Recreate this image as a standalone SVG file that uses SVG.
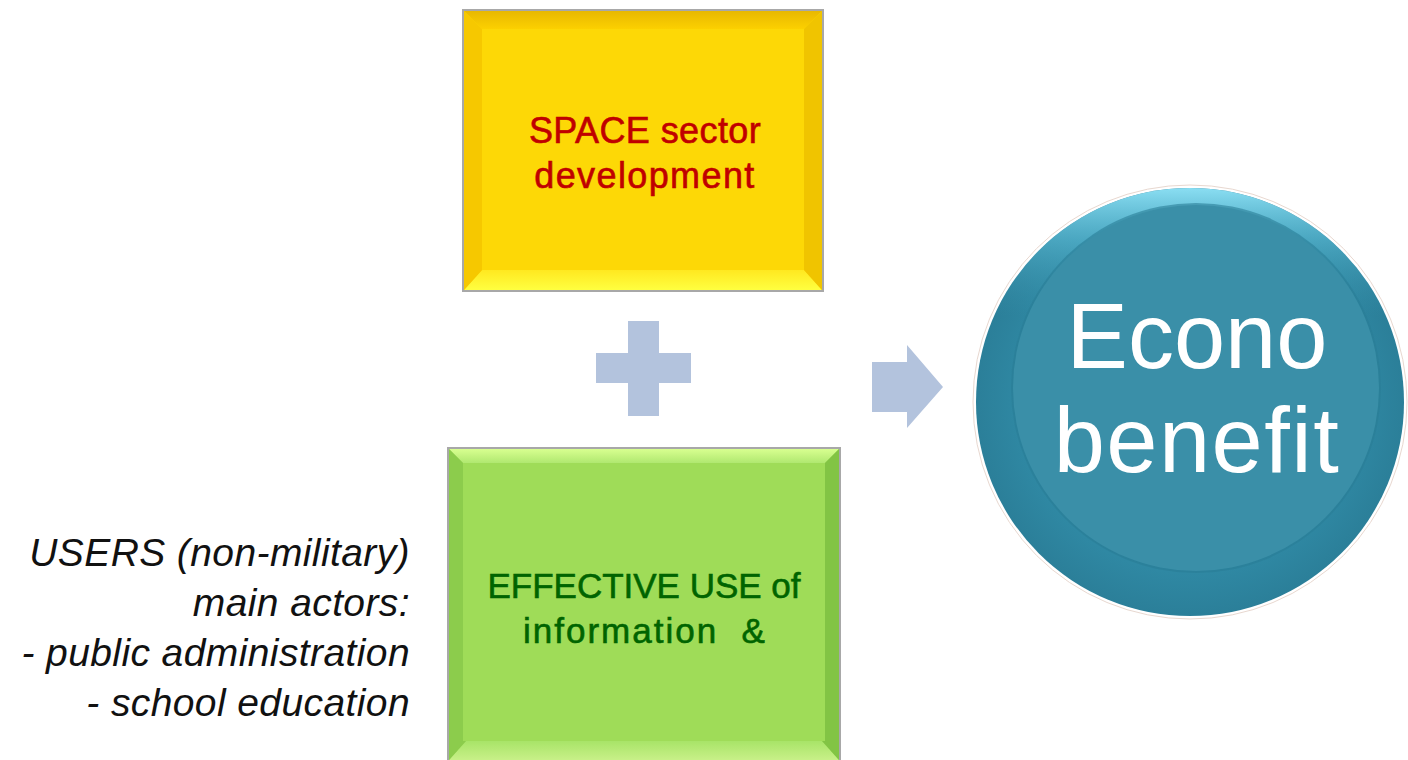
<svg xmlns="http://www.w3.org/2000/svg" width="1408" height="760" viewBox="0 0 1408 760">
  <defs>
    <radialGradient id="outerG" cx="0.5" cy="0.5" r="0.5" fx="0.5" fy="0.5">
      <stop offset="0.8" stop-color="#2f88a3"/>
      <stop offset="1" stop-color="#2b7f99"/>
    </radialGradient>
    <linearGradient id="hiG" x1="0" y1="0" x2="0" y2="1">
      <stop offset="0" stop-color="#8fe3f7" stop-opacity="0.95"/>
      <stop offset="0.12" stop-color="#5fc0da" stop-opacity="0.6"/>
      <stop offset="0.3" stop-color="#3a98b2" stop-opacity="0"/>
    </linearGradient>
    <linearGradient id="yTop" x1="0" y1="0" x2="0" y2="1">
      <stop offset="0" stop-color="#e8b800"/>
      <stop offset="1" stop-color="#fcd000"/>
    </linearGradient>
    <linearGradient id="yBot" x1="0" y1="0" x2="0" y2="1">
      <stop offset="0" stop-color="#ffe820"/>
      <stop offset="1" stop-color="#ffff40"/>
    </linearGradient>
    <linearGradient id="gTop" x1="0" y1="0" x2="0" y2="1">
      <stop offset="0" stop-color="#d8ff90"/>
      <stop offset="1" stop-color="#b0e870"/>
    </linearGradient>
    <linearGradient id="gBot" x1="0" y1="0" x2="0" y2="1">
      <stop offset="0" stop-color="#a8e468"/>
      <stop offset="1" stop-color="#c8f088"/>
    </linearGradient>
    <style>
      .box-edge { stroke: #a8a8a8; stroke-width: 2; }
      .lbl { font-family: "Liberation Sans", Arial, sans-serif; text-anchor: middle; stroke-width: 0.6; }
      .side { font-family: "Liberation Sans", Arial, sans-serif; font-style: italic; font-size: 39px; letter-spacing: 0.4px; fill: #111111; text-anchor: end; }
      .sym { fill: #b3c3dd; }
    </style>
  </defs>
  <rect width="1408" height="760" fill="#ffffff"/>

  <g id="space-sector">
    <rect x="463" y="10" width="360" height="281" fill="#fdd800" class="box-edge"/>
    <polygon points="464,11 822,11 804,29 482,29" fill="url(#yTop)"/>
    <polygon points="464,290 822,290 804,270 482,270" fill="url(#yBot)"/>
    <polygon points="464,11 482,29 482,270 464,290" fill="#f6c800"/>
    <polygon points="822,11 804,29 804,270 822,290" fill="#f0c400"/>
    <rect x="482" y="29" width="322" height="241" fill="#fdd806"/>
    <text class="lbl" x="645" y="143" font-size="36" letter-spacing="0.4" fill="#c00000" stroke="#c00000">SPACE sector</text>
    <text class="lbl" x="645" y="188" font-size="36" letter-spacing="1.4" fill="#c00000" stroke="#c00000">development</text>
  </g>

  <g id="effective-use">
    <rect x="448" y="448" width="392" height="320" fill="#9edc5a" class="box-edge"/>
    <polygon points="449,449 839,449 825,463 463,463" fill="url(#gTop)"/>
    <polygon points="449,760 839,760 822,741 466,741" fill="url(#gBot)"/>
    <polygon points="449,449 463,463 466,741 449,760" fill="#8ccc4c"/>
    <polygon points="839,449 825,463 822,741 839,760" fill="#82c444"/>
    <rect x="463" y="463" width="362" height="278" fill="#9fdc58"/>
    <text class="lbl" x="644" y="598" font-size="35" fill="#006400" stroke="#006400">EFFECTIVE USE of</text>
    <text class="lbl" x="645" y="643" font-size="35" letter-spacing="2" fill="#006400" stroke="#006400" xml:space="preserve">information  &amp;</text>
  </g>

  <g id="users">
    <text class="side" x="410" y="566">USERS (non-military)</text>
    <text class="side" x="410" y="616">main actors:</text>
    <text class="side" x="410" y="666">- public administration</text>
    <text class="side" x="410" y="716">- school education</text>
  </g>

  <g id="econo-benefit">
    <circle cx="1190" cy="402" r="217" fill="#ffffff" stroke="#e8d8d0" stroke-width="1"/>
    <circle cx="1190" cy="402" r="214" fill="url(#outerG)"/>
    <circle cx="1190" cy="402" r="214" fill="url(#hiG)"/>
    <circle cx="1196" cy="388" r="185" fill="#2a7d96" opacity="0.6"/>
    <circle cx="1196" cy="388" r="183" fill="#3a8fa8"/>
    <text class="lbl" x="1197" y="368" font-size="92" fill="#ffffff" stroke-width="0">Econo</text>
    <text class="lbl" x="1197" y="472" font-size="92" letter-spacing="1.5" fill="#ffffff" stroke-width="0">benefit</text>
  </g>

  <g id="connectors">
    <path class="sym" d="M628,321 H659 V353 H691 V383 H659 V416 H628 V383 H596 V353 H628 Z"/>
    <path class="sym" d="M872,362 H907 V345 L943,387 L907,428 V412 H872 Z"/>
  </g>
</svg>
